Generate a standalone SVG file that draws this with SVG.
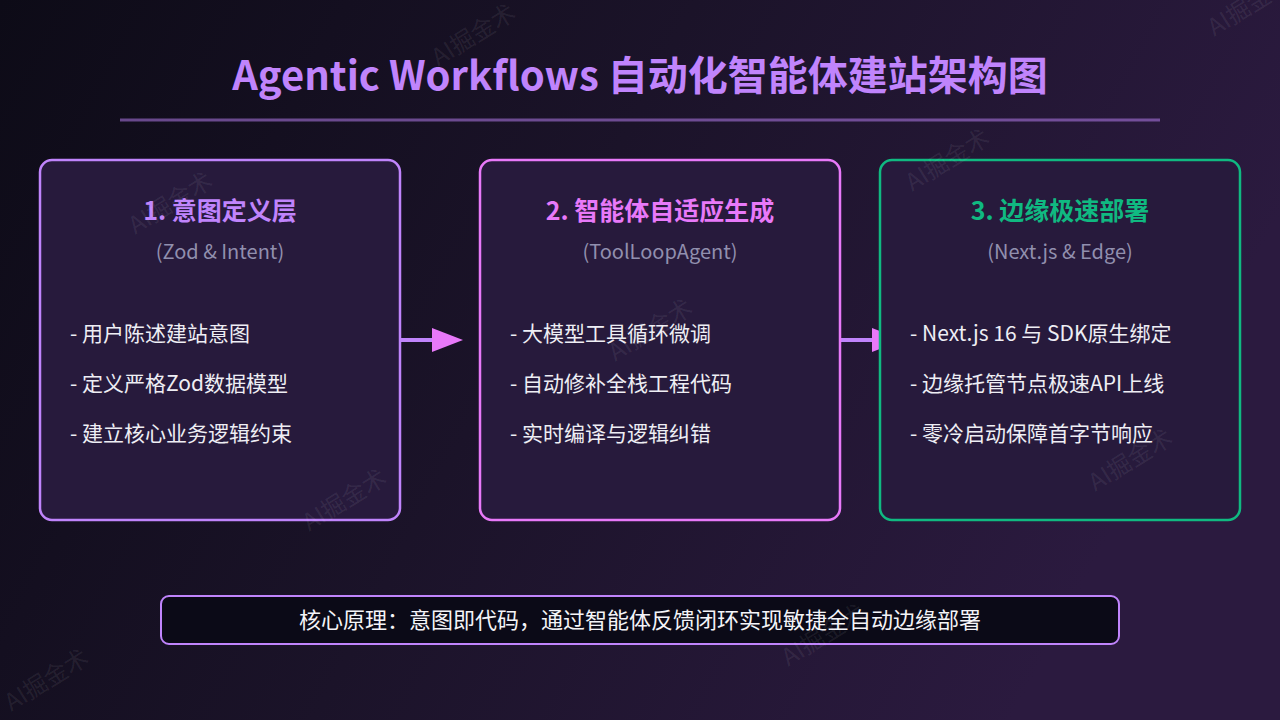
<svg xmlns="http://www.w3.org/2000/svg" width="1280" height="720" viewBox="0 0 1280 720">
  <defs>
    <linearGradient id="bg" x1="0" y1="0" x2="1" y2="0.3">
      <stop offset="0" stop-color="#0d0b17"/>
      <stop offset="0.5" stop-color="#1b1329"/>
      <stop offset="1" stop-color="#2b1a3f"/>
    </linearGradient>
    <style>
      text { font-family: "Noto Sans CJK SC", "Noto Sans", sans-serif; }
      .title { font-size: 40px; font-weight: 700; fill: #c084fc; text-anchor: middle; }
      .card { fill: #271a3c; stroke-width: 2.5; }
      .head { font-size: 25px; font-weight: 700; text-anchor: middle; }
      .sub { font-size: 20px; fill: #918fae; text-anchor: middle; }
      .item { font-size: 21px; fill: #eeeef4; }
      .wm { font-size: 24px; fill: #ffffff; fill-opacity: 0.08; text-anchor: middle; }
      .conn-line { stroke: #c084fc; stroke-width: 4; fill: none; }
      .conn-head { fill: #e879f9; }
    </style>
  </defs>

  <rect x="0" y="0" width="1280" height="720" fill="url(#bg)"/>

  <g id="title">
    <text class="title" x="640" y="90">Agentic Workflows 自动化智能体建站架构图</text>
    <line x1="120" y1="120" x2="1160" y2="120" stroke="#c084fc" stroke-opacity="0.5" stroke-width="3"/>
  </g>

  <g id="connectors">
    <line class="conn-line" x1="400" y1="340" x2="433" y2="340"/>
    <polygon class="conn-head" points="432,328 463,340 432,352"/>
    <line class="conn-line" x1="840" y1="340" x2="873" y2="340"/>
    <polygon class="conn-head" points="872,328 903,340 872,352"/>
  </g>

  <g id="node-1">
    <rect class="card" x="40" y="160" width="360" height="360" rx="12" stroke="#c084fc"/>
    <text class="head" x="220" y="220" fill="#c084fc">1. 意图定义层</text>
    <text class="sub" x="220" y="259">(Zod &amp; Intent)</text>
    <text class="item" x="70" y="341">- 用户陈述建站意图</text>
    <text class="item" x="70" y="391">- 定义严格Zod数据模型</text>
    <text class="item" x="70" y="441">- 建立核心业务逻辑约束</text>
  </g>

  <g id="node-2">
    <rect class="card" x="480" y="160" width="360" height="360" rx="12" stroke="#e879f9"/>
    <text class="head" x="660" y="220" fill="#e879f9">2. 智能体自适应生成</text>
    <text class="sub" x="660" y="259">(ToolLoopAgent)</text>
    <text class="item" x="510" y="341">- 大模型工具循环微调</text>
    <text class="item" x="510" y="391">- 自动修补全栈工程代码</text>
    <text class="item" x="510" y="441">- 实时编译与逻辑纠错</text>
  </g>

  <g id="node-3">
    <rect class="card" x="880" y="160" width="360" height="360" rx="12" stroke="#10b981"/>
    <text class="head" x="1060" y="220" fill="#10b981">3. 边缘极速部署</text>
    <text class="sub" x="1060" y="259">(Next.js &amp; Edge)</text>
    <text class="item" x="910" y="341">- Next.js 16 与 SDK原生绑定</text>
    <text class="item" x="910" y="391">- 边缘托管节点极速API上线</text>
    <text class="item" x="910" y="441">- 零冷启动保障首字节响应</text>
  </g>

  <g id="summary">
    <rect x="161" y="596" width="958" height="48" rx="8" fill="#0b0a17" stroke="#c084fc" stroke-width="2"/>
    <text x="640" y="628" font-size="22" fill="#f4f4f8" text-anchor="middle">核心原理：意图即代码，通过智能体反馈闭环实现敏捷全自动边缘部署</text>
  </g>

  <g id="watermarks">
    <text class="wm" transform="translate(478,42) rotate(-32)">AI掘金术</text>
    <text class="wm" transform="translate(175,210) rotate(-32)">AI掘金术</text>
    <text class="wm" transform="translate(349,507) rotate(-32)">AI掘金术</text>
    <text class="wm" transform="translate(655,337) rotate(-32)">AI掘金术</text>
    <text class="wm" transform="translate(952,167) rotate(-32)">AI掘金术</text>
    <text class="wm" transform="translate(1135,467) rotate(-32)">AI掘金术</text>
    <text class="wm" transform="translate(51,687) rotate(-32)">AI掘金术</text>
    <text class="wm" transform="translate(828,642) rotate(-32)">AI掘金术</text>
    <text class="wm" transform="translate(1254,12) rotate(-32)">AI掘金术</text>
  </g>
</svg>
